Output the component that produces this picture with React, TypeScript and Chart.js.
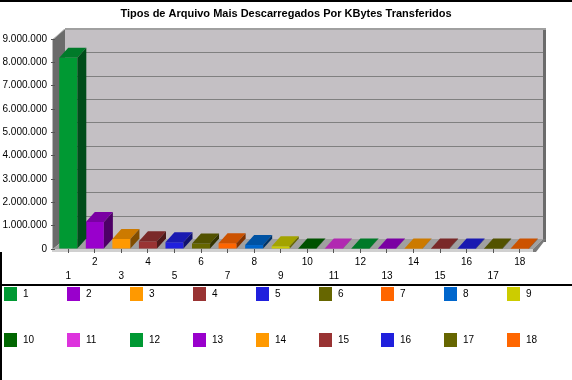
import React, { useEffect, useRef } from 'react';
import { Chart, registerables } from 'chart.js';

Chart.register(...registerables);

const chartTitle = 'Tipos de Arquivo Mais Descarregados Por KBytes Transferidos';
const categories = ['1', '2', '3', '4', '5', '6', '7', '8', '9', '10', '11', '12', '13', '14', '15', '16', '17', '18'];
const kbytes = [8200000, 1160000, 430000, 330000, 290000, 235000, 250000, 170000, 115000, 12000, 9000, 8000, 7000, 6000, 5000, 4500, 4000, 3500];
const barColors = [
  '#009933', '#9900CC', '#FF9900', '#993333', '#2020DD', '#666600', '#FF6600', '#0066CC', '#CCCC00',
  '#006600', '#DD33DD', '#009933', '#9900CC', '#FF9900', '#993333', '#2020DD', '#666600', '#FF6600',
];
const yMax = 9000000;
const yStep = 1000000;

const FONT = '"Liberation Sans", Arial, sans-serif';

function fmt(v: number): string {
  return String(Math.round(v)).replace(/\B(?=(\d{3})+(?!\d))/g, '.');
}

function shade(hex: string, f: number): string {
  const n = parseInt(hex.slice(1), 16);
  const r = Math.round(((n >> 16) & 255) * f);
  const g = Math.round(((n >> 8) & 255) * f);
  const b = Math.round((n & 255) * f);
  return `rgb(${r},${g},${b})`;
}

function poly(ctx: CanvasRenderingContext2D, pts: number[][], fill: string) {
  ctx.beginPath();
  ctx.moveTo(pts[0][0], pts[0][1]);
  for (let i = 1; i < pts.length; i++) ctx.lineTo(pts[i][0], pts[i][1]);
  ctx.closePath();
  ctx.fillStyle = fill;
  ctx.fill();
}

const WALL = 10;
const BDX = 9;
const BDY = 10;

const depthPlugin = {
  id: 'depth3d',
  beforeDraw(chart: any) {
    const { ctx, chartArea: a, scales } = chart;
    const y = scales.y;
    ctx.save();
    ctx.fillStyle = '#FFFFFF';
    ctx.fillRect(0, 0, chart.width, chart.height);
    // back wall
    ctx.fillStyle = '#C4C0C4';
    ctx.fillRect(a.left + WALL, a.top - WALL, a.right - a.left, a.bottom - a.top);
    // right thickness of back wall
    ctx.fillStyle = '#6B6B6B';
    ctx.fillRect(a.right + WALL, a.top - WALL, 3, a.bottom - a.top + 3);
    // left wall
    poly(ctx, [[a.left - 2, a.top], [a.left + WALL, a.top - WALL], [a.left + WALL, a.bottom - WALL], [a.left - 2, a.bottom]], '#6B6B6B');
    poly(ctx, [[a.left - 3, a.top + 1], [a.left + WALL - 1, a.top - WALL], [a.left + WALL, a.top - WALL], [a.left - 2, a.top + 1], [a.left - 2, a.bottom], [a.left - 3, a.bottom]], '#B8B8B8');
    // floor
    poly(ctx, [[a.left - 2, a.bottom], [a.left + WALL, a.bottom - WALL], [a.right + WALL, a.bottom - WALL], [a.right, a.bottom]], '#A0A0A0');
    // floor slab front + right side
    ctx.fillStyle = '#D0D0D0';
    ctx.fillRect(a.left - 3, a.bottom, a.right - a.left + 3, 3);
    poly(ctx, [[a.right, a.bottom], [a.right + WALL, a.bottom - WALL], [a.right + WALL + 3, a.bottom - WALL], [a.right + 3, a.bottom + 3], [a.right, a.bottom + 3]], '#7A7A7A');
    // gridlines on back wall
    ctx.strokeStyle = '#808080';
    ctx.lineWidth = 1;
    y.ticks.forEach((t: any) => {
      if (t.value <= 0) return;
      const py = Math.round(y.getPixelForValue(t.value) - WALL) + 0.5;
      ctx.beginPath();
      ctx.moveTo(a.left + WALL, py);
      ctx.lineTo(a.right + WALL, py);
      ctx.stroke();
    });
    // top border of back wall
    ctx.fillStyle = '#A0A0A0';
    ctx.fillRect(a.left + WALL, a.top - WALL - 1, a.right - a.left + 3, 2);
    ctx.restore();
  },
  afterDatasetsDraw(chart: any) {
    const { ctx } = chart;
    const meta = chart.getDatasetMeta(0);
    const colors = chart.data.datasets[0].backgroundColor as string[];
    ctx.save();
    meta.data.forEach((bar: any, i: number) => {
      const p = bar.getProps(['x', 'y', 'base', 'width'], true);
      const l = p.x - p.width / 2;
      const r = p.x + p.width / 2;
      const top = Math.min(p.y, p.base);
      const base = Math.max(p.y, p.base);
      poly(ctx, [[l, top], [l + BDX, top - BDY], [r + BDX, top - BDY], [r, top]], shade(colors[i], 0.8));
      poly(ctx, [[r, top], [r + BDX, top - BDY], [r + BDX, base - BDY], [r, base]], shade(colors[i], 0.5));
    });
    ctx.restore();
  },
  afterDraw(chart: any) {
    const { ctx } = chart;
    const labels = chart.data.labels as string[];
    const colors = chart.data.datasets[0].backgroundColor as string[];
    ctx.save();
    // title, centred on the whole canvas
    ctx.fillStyle = '#000000';
    ctx.font = `bold 11px ${FONT}`;
    ctx.textAlign = 'center';
    ctx.textBaseline = 'middle';
    ctx.fillText(chartTitle, chart.width / 2, 13.5);
    // frame lines
    ctx.fillRect(0, 0, chart.width, 2);
    ctx.fillRect(0, 252, 2, chart.height - 252);
    ctx.fillRect(0, 284, chart.width, 2);
    // legend
    ctx.font = `10px ${FONT}`;
    ctx.textBaseline = 'middle';
    ctx.textAlign = 'left';
    labels.forEach((lab, i) => {
      const col = i % 9;
      const row = Math.floor(i / 9);
      const bx = Math.round(4 + col * 62.9);
      const by = 287 + row * 46;
      ctx.fillStyle = colors[i];
      ctx.fillRect(bx, by, 13, 14);
      ctx.fillStyle = '#000000';
      ctx.fillText(lab, bx + 19, by + 7.5);
    });
    ctx.restore();
  },
};

export default function App() {
  const ref = useRef<HTMLCanvasElement | null>(null);
  useEffect(() => {
    if (!ref.current) return;
    const chart = new Chart(ref.current, {
      type: 'bar',
      data: {
        labels: categories,
        datasets: [
          {
            data: kbytes,
            backgroundColor: barColors,
            borderWidth: 0,
            barPercentage: 0.68,
            categoryPercentage: 1,
          },
        ],
      },
      options: {
        responsive: false,
        animation: false,
        layout: { padding: { left: 0, right: 39, top: 39, bottom: 95 } },
        plugins: {
          legend: { display: false },
          tooltip: { enabled: false },
          title: { display: false },
        },
        scales: {
          x: {
            type: 'category',
            grid: { drawOnChartArea: false, offset: false, tickLength: 4, color: '#555555' },
            border: { display: false },
            ticks: {
              autoSkip: false,
              maxRotation: 0,
              minRotation: 0,
              padding: 2,
              color: '#000000',
              font: { family: FONT, size: 10, lineHeight: 1.4 },
              callback: (_v: any, index: number) => (index % 2 === 0 ? ['', categories[index]] : categories[index]),
            },
            afterFit: (s: any) => {
              s.height = 36;
            },
          },
          y: {
            min: 0,
            max: yMax,
            grid: { drawOnChartArea: false, tickLength: 4, color: '#555555' },
            border: { display: false },
            ticks: {
              stepSize: yStep,
              padding: 4,
              color: '#000000',
              font: { family: FONT, size: 10 },
              callback: (v: any) => fmt(Number(v)),
            },
            afterFit: (s: any) => {
              s.width = 55;
            },
          },
        },
      },
      plugins: [depthPlugin],
    });
    return () => chart.destroy();
  }, []);
  return (
    <div style={{ position: 'absolute', left: 0, top: 0, width: 572, height: 380, background: '#fff' }}>
      <canvas ref={ref} width={572} height={380} style={{ display: 'block' }} />
    </div>
  );
}
